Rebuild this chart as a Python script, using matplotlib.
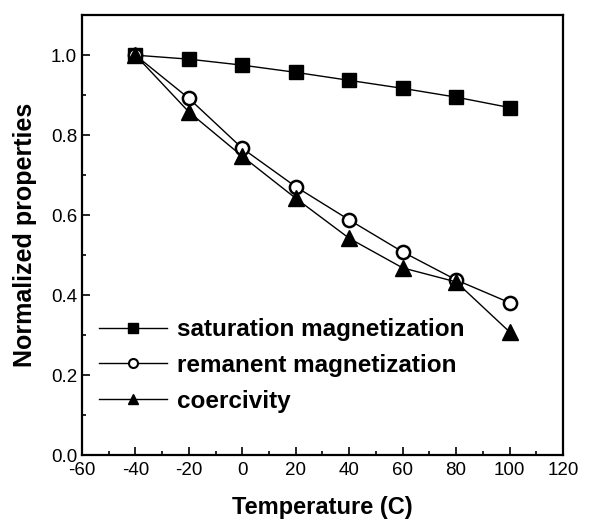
import matplotlib
matplotlib.use("Agg")
import matplotlib.pyplot as plt
from matplotlib.ticker import MultipleLocator
from matplotlib.lines import Line2D

temperature = [-40, -20, 0, 20, 40, 60, 80, 100]
saturation = [1.0, 0.990, 0.975, 0.957, 0.937, 0.917, 0.895, 0.869]
remanent = [1.0, 0.892, 0.767, 0.671, 0.588, 0.508, 0.438, 0.381]
coercivity = [1.0, 0.858, 0.747, 0.642, 0.542, 0.468, 0.433, 0.308]
labels = ['saturation magnetization', 'remanent magnetization', 'coercivity']

plt.rcParams['font.family'] = ['Liberation Sans', 'DejaVu Sans']
plt.rcParams['axes.unicode_minus'] = False

fig = plt.figure(figsize=(6.05, 5.23), dpi=100)
ax = fig.add_axes([0.1355, 0.130, 0.795, 0.841])

ax.plot(temperature, saturation, color='black', lw=1.0, marker='s', ms=10,
        mfc='black', mec='black')
ax.plot(temperature, remanent, color='black', lw=1.0, marker='o', ms=9.5,
        mfc='white', mec='black', mew=1.8)
ax.plot(temperature, coercivity, color='black', lw=1.0, marker='^', ms=11,
        mfc='black', mec='black')

ax.set_xlim(-60, 120)
ax.set_ylim(0, 1.1)
ax.xaxis.set_major_locator(MultipleLocator(20))
ax.xaxis.set_minor_locator(MultipleLocator(10))
ax.yaxis.set_major_locator(MultipleLocator(0.2))
ax.yaxis.set_minor_locator(MultipleLocator(0.1))
ax.yaxis.set_major_formatter(plt.FuncFormatter(lambda v, p: f"{v:.1f}"))
ax.tick_params(which='major', direction='in', length=6, width=1.2, labelsize=13.5,
               top=False, right=False)
ax.tick_params(axis='x', which='major', pad=5)
ax.tick_params(which='minor', direction='in', length=3, width=1.2, top=False, right=False)
for s in ax.spines.values():
    s.set_linewidth(1.6)

ax.set_xlabel('Temperature (C)', fontsize=17, fontweight='bold', labelpad=12)
ax.set_ylabel('Normalized properties', fontsize=18, fontweight='bold', labelpad=10)

handles = [
    Line2D([], [], color='black', lw=1.0, marker='s', ms=6.5, mfc='black', mec='black'),
    Line2D([], [], color='black', lw=1.0, marker='o', ms=6.5, mfc='white', mec='black', mew=1.5),
    Line2D([], [], color='black', lw=1.0, marker='^', ms=7.5, mfc='black', mec='black'),
]
leg = ax.legend(handles, labels, loc='upper left', bbox_to_anchor=(0.015, 0.333),
                frameon=False, handlelength=2.8, handletextpad=0.4, labelspacing=0.52,
                borderaxespad=0.0, prop={'weight': 'bold', 'size': 17.5})

fig.savefig('out.png', dpi=100)
